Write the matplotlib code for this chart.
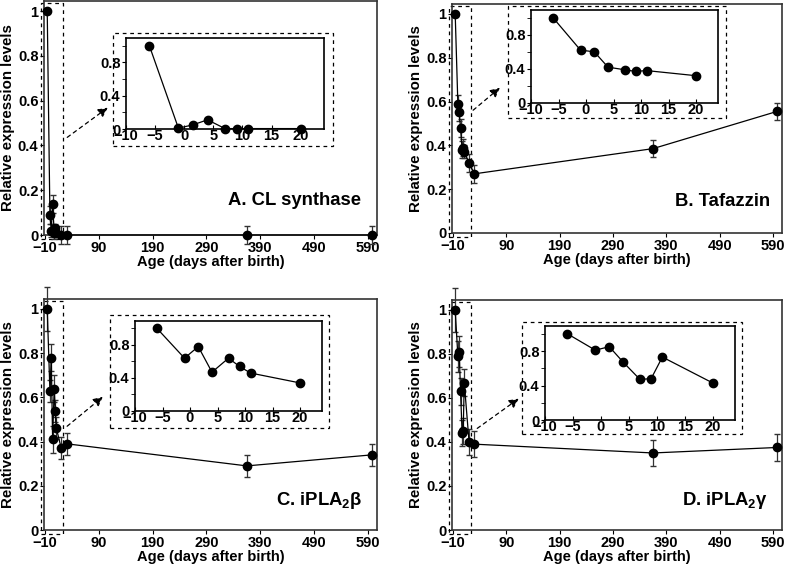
import matplotlib
matplotlib.use('Agg')
import matplotlib.pyplot as plt
from matplotlib.patches import Rectangle, FancyArrowPatch
import numpy as np

plt.rcParams['font.family'] = ['Liberation Sans', 'DejaVu Sans']
plt.rcParams['font.weight'] = 'bold'
plt.rcParams['mathtext.fontset'] = 'custom'
plt.rcParams['mathtext.rm'] = 'Liberation Sans:bold'
plt.rcParams['mathtext.bf'] = 'Liberation Sans:bold'
plt.rcParams['mathtext.it'] = 'Liberation Sans:bold'

W, H = 786, 566

# ---- data ----
main_x = [-6, -1, 1.5, 4, 7, 9, 11, 20, 30, 365, 598]
inset_x = [-6, -1, 1.5, 4, 7, 9, 11, 20]

clsyn_y = [1.0, 0.09, 0.02, 0.14, 0.01, 0.03, 0.01, 0.0, 0.0, 0.0, 0.0]
clsyn_err = [0.0, 0.04, 0.03, 0.04, 0.03, 0.02, 0.02, 0.04, 0.04, 0.04, 0.04]
clsyn_inset = [1.0, 0.01, 0.05, 0.11, 0.005, 0.005, 0.005, 0.005]

taz_y = [1.0, 0.59, 0.55, 0.48, 0.38, 0.39, 0.37, 0.32, 0.27, 0.385, 0.555]
taz_err = [0.0, 0.04, 0.04, 0.04, 0.04, 0.04, 0.03, 0.04, 0.04, 0.04, 0.04]
taz_inset = [1.0, 0.62, 0.60, 0.42, 0.39, 0.37, 0.38, 0.32]

ipb_y = [1.0, 0.63, 0.78, 0.41, 0.64, 0.54, 0.46, 0.37, 0.39, 0.29, 0.34]
ipb_err = [0.1, 0.05, 0.06, 0.06, 0.06, 0.05, 0.05, 0.05, 0.05, 0.05, 0.05]
ipb_inset = [1.0, 0.64, 0.78, 0.47, 0.64, 0.54, 0.46, 0.34]

ipg_y = [1.0, 0.79, 0.81, 0.63, 0.44, 0.45, 0.67, 0.40, 0.39, 0.35, 0.375]
ipg_err = [0.1, 0.07, 0.07, 0.06, 0.06, 0.06, 0.06, 0.06, 0.06, 0.06, 0.06]
ipg_inset = [1.0, 0.81, 0.85, 0.67, 0.47, 0.48, 0.73, 0.43]

main_xticks = [-10, 90, 190, 290, 390, 490, 590]
main_yticks = [0, 0.2, 0.4, 0.6, 0.8, 1.0]
main_ylabels = ['0', '0.2', '0.4', '0.6', '0.8', '1']
inset_xticks = [-10, -5, 0, 5, 10, 15, 20]
inset_yticks = [0, 0.4, 0.8]
inset_ylabels = ['0', '0.4', '0.8']


def frac(l, r, t, b):
    return [l / W, 1 - b / H, (r - l) / W, (b - t) / H]


def fpt(x, y):
    return (x / W, 1 - y / H)


def panel(fig, main_px, inset_px, box_px, arrow_px, title, title_px,
          y, err, y_in):
    ax = fig.add_axes(frac(*main_px))
    ax.errorbar(main_x, y, yerr=err, fmt='o-', color='black', ms=6,
                lw=0.9, elinewidth=0.9, capsize=2.5, ecolor='#333333',
                clip_on=False, zorder=3)
    ax.set_xlim(-12, 607)
    ax.set_ylim(0, 1.045)
    ax.set_xticks(main_xticks)
    ax.set_yticks(main_yticks)
    ax.set_yticklabels(main_ylabels)
    ax.tick_params(labelsize=10.5, length=3, width=0.8, pad=1)
    for lab in ax.get_xticklabels() + ax.get_yticklabels():
        lab.set_fontweight('bold')
    for s in ax.spines.values():
        s.set_linewidth(1.2)
        s.set_color('#333333')
    ax.set_xlabel('Age (days after birth)', fontsize=10.5, fontweight='bold',
                  labelpad=0)
    ax.set_ylabel('Relative expression levels', fontsize=10.8,
                  fontweight='bold', labelpad=2)
    # dashed zoom region
    ax.add_patch(Rectangle((-17, -0.02), 40, 1.055, fill=False,
                           ls=(0, (3, 3)), lw=0.9, color='black',
                           clip_on=False, zorder=2))
    fig.text(*fpt(*title_px), title, fontsize=13.3, fontweight='bold',
             ha='right', va='baseline')

    # inset
    ai = fig.add_axes(frac(*inset_px))
    ai.plot(inset_x, y_in, 'o-', color='black', ms=6, lw=0.9,
            clip_on=False, zorder=3)
    ai.set_xlim(-10, 24)
    ai.set_ylim(0, 1.09)
    ai.set_xticks(inset_xticks)
    ai.set_yticks(inset_yticks)
    ai.set_yticklabels(inset_ylabels)
    ai.set_yticks([0.2, 0.6, 1.0], minor=True)
    ai.tick_params(axis='x', direction='in', length=3, labelsize=10.5, pad=0)
    ai.tick_params(axis='y', direction='out', length=3, labelsize=10.5, pad=1)
    ai.tick_params(axis='y', which='minor', direction='out', length=3)
    for lab in ai.get_xticklabels() + ai.get_yticklabels():
        lab.set_fontweight('bold')
    for s in ai.spines.values():
        s.set_linewidth(1.2)
    l, r, t, b = box_px
    fig.add_artist(Rectangle(fpt(l, b), (r - l) / W, (b - t) / H,
                             transform=fig.transFigure, fill=False,
                             ls=(0, (3, 3)), lw=0.9, color='black'))
    (x0, y0), (x1, y1) = arrow_px
    fig.add_artist(FancyArrowPatch(fpt(x0, y0), fpt(x1, y1),
                                   transform=fig.transFigure,
                                   arrowstyle='-|>', mutation_scale=14,
                                   ls=(0, (3, 3)), lw=0.9, color='black'))


fig = plt.figure(figsize=(W / 100, H / 100), dpi=100)

panel(fig, (44, 377, 1, 235), (126, 324, 38, 129), (113, 333, 33, 146),
      ((65, 139), (110, 106)), 'A. CL synthase', (361, 205),
      clsyn_y, clsyn_err, clsyn_inset)
panel(fig, (452, 782, 4, 233), (531, 718, 10, 103), (508, 726, 6, 118),
      ((471, 112), (502, 86)), 'B. Tafazzin', (770, 206),
      taz_y, taz_err, taz_inset)
panel(fig, (44, 377, 299, 530), (135, 322, 321, 411), (110, 329, 315, 428),
      ((65, 428), (105, 395)), r'C. iPLA$_2\beta$', (362, 505),
      ipb_y, ipb_err, ipb_inset)
panel(fig, (452, 782, 300, 530), (545, 735, 326, 420), (522, 742, 322, 434),
      ((475, 430), (521, 397)), r'D. iPLA$_2\gamma$', (768, 505),
      ipg_y, ipg_err, ipg_inset)

fig.savefig('out.png', dpi=100)
